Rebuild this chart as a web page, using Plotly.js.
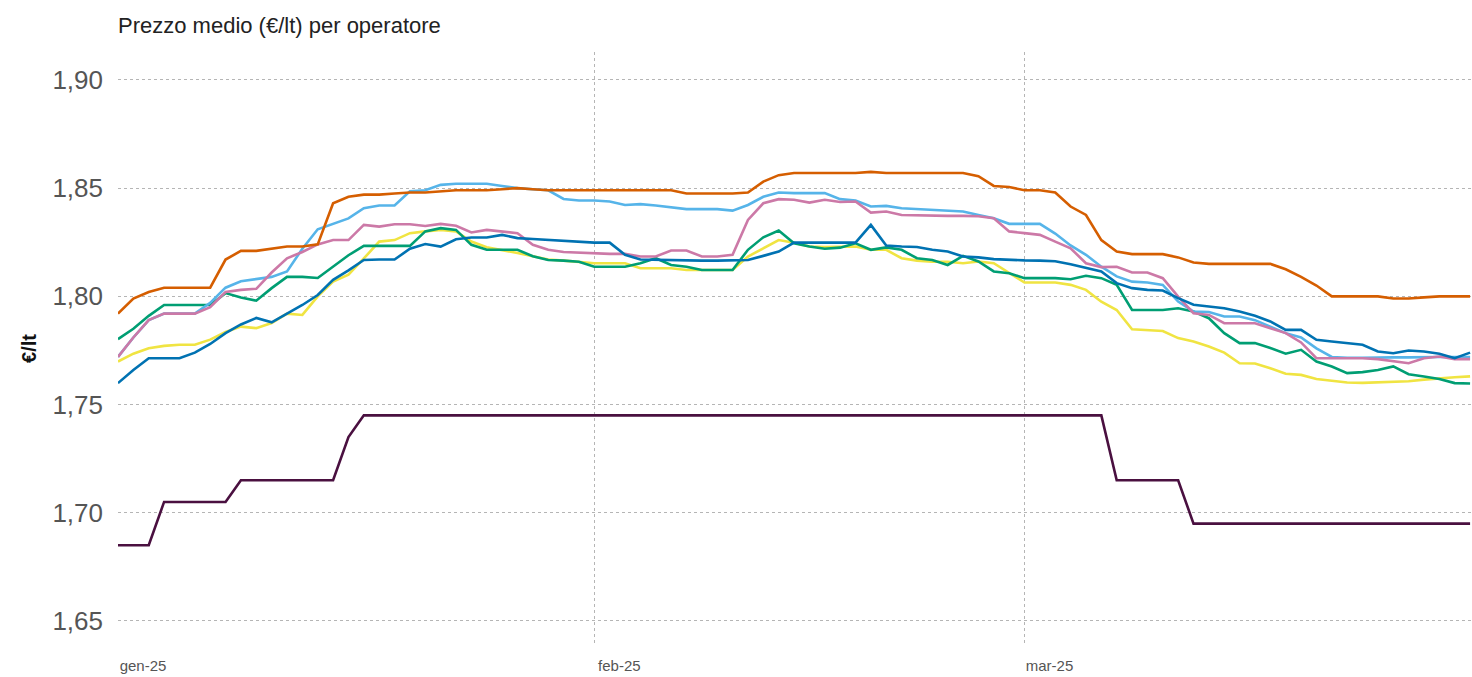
<!DOCTYPE html>
<html><head><meta charset="utf-8">
<script src="https://cdn.plot.ly/plotly-3.0.1.min.js"></script>
<style>html,body{margin:0;padding:0;background:#fff}#chart{width:1472px;height:677px}</style>
</head><body><div id="chart"></div>
<script>
// Daily observations, 1 Jan 2025 .. 30 Mar 2025 (89 days)
const startDate = '2025-01-01';
const nDays = 89;

const tickVals = ['2025-01-01', '2025-02-01', '2025-03-01'];
const tickLabels = ['gen-25', 'feb-25', 'mar-25'];
const yTicks = [1.65, 1.70, 1.75, 1.80, 1.85, 1.90];

const opA = [ // orange
1.792,1.799,1.802,1.804,1.804,1.804,1.804,1.817,1.821,1.821,
1.822,1.823,1.823,1.824,1.843,1.846,1.847,1.847,1.8475,1.848,
1.848,1.8485,1.849,1.849,1.849,1.8495,1.850,1.8495,1.849,1.849,
1.849,1.849,1.849,1.849,1.849,1.849,1.849,1.8475,1.8475,1.8475,
1.8475,1.848,1.853,1.856,1.857,1.857,1.857,1.857,1.857,1.8575,
1.857,1.857,1.857,1.857,1.857,1.857,1.8555,1.851,1.8505,1.849,
1.849,1.848,1.8415,1.8376,1.826,1.8207,1.8195,1.8195,1.8195,1.818,
1.8156,1.815,1.815,1.815,1.815,1.815,1.8125,1.809,1.805,1.800,
1.800,1.800,1.800,1.799,1.799,1.7995,1.800,1.800,1.800];

const opB = [ // light blue
1.772,1.781,1.789,1.792,1.792,1.792,1.797,1.804,1.807,1.808,
1.809,1.8115,1.822,1.831,1.8335,1.836,1.8407,1.842,1.842,1.8485,
1.849,1.8515,1.852,1.852,1.852,1.851,1.850,1.8495,1.849,1.845,
1.8443,1.8443,1.8438,1.8422,1.8426,1.842,1.841,1.8403,1.8403,1.8403,
1.8396,1.8422,1.846,1.848,1.8477,1.8477,1.8477,1.8449,1.8443,1.8415,
1.8418,1.8407,1.8403,1.840,1.8395,1.8392,1.8376,1.8361,1.8335,1.8335,
1.8335,1.829,1.8235,1.8192,1.8137,1.8092,1.8068,1.8064,1.8053,1.7976,
1.793,1.7928,1.7907,1.7907,1.789,1.786,1.783,1.781,1.776,1.772,
1.7716,1.7716,1.7718,1.7718,1.7718,1.772,1.772,1.772,1.772];

const opC = [ // pink
1.772,1.781,1.789,1.792,1.792,1.792,1.795,1.802,1.803,1.8035,
1.811,1.8176,1.8205,1.824,1.826,1.826,1.833,1.8322,1.8333,1.8333,
1.8325,1.8335,1.8326,1.8295,1.8307,1.830,1.8292,1.8238,1.8215,1.8205,
1.8202,1.8196,1.8196,1.8196,1.8184,1.8184,1.8212,1.8212,1.8184,1.8184,
1.8192,1.8353,1.843,1.8449,1.8446,1.8433,1.8446,1.8436,1.8438,1.8387,
1.8392,1.8376,1.8374,1.8372,1.8372,1.8372,1.837,1.8361,1.830,1.8292,
1.8284,1.8253,1.8222,1.8153,1.8135,1.8137,1.811,1.811,1.8084,1.7999,
1.7922,1.7914,1.7876,1.7876,1.7876,1.7853,1.783,1.7787,1.7714,1.7714,
1.7714,1.7714,1.771,1.7699,1.7691,1.7714,1.7722,1.771,1.771];

const opD = [ // green
1.7802,1.785,1.791,1.796,1.796,1.796,1.796,1.8015,1.7995,1.798,
1.8038,1.809,1.809,1.8085,1.8137,1.819,1.8233,1.8233,1.8233,1.8233,
1.830,1.8315,1.8307,1.8238,1.8215,1.8215,1.8215,1.8185,1.8168,1.8165,
1.816,1.8137,1.8137,1.8137,1.8153,1.8176,1.8145,1.8137,1.8122,1.8122,
1.8122,1.8215,1.8273,1.8304,1.8245,1.823,1.822,1.8225,1.8245,1.8215,
1.8226,1.8215,1.8176,1.8168,1.8145,1.8187,1.8161,1.8115,1.8107,1.8084,
1.8084,1.8084,1.8079,1.8095,1.8084,1.8053,1.7937,1.7937,1.7937,1.7945,
1.793,1.7899,1.783,1.7784,1.7784,1.7761,1.7735,1.7753,1.7699,1.7676,
1.7645,1.765,1.766,1.7676,1.764,1.763,1.7618,1.7599,1.7597];

const opE = [ // yellow
1.7699,1.7735,1.776,1.7771,1.7776,1.7776,1.780,1.7835,1.786,1.7853,
1.7877,1.792,1.7914,1.800,1.8068,1.810,1.8175,1.8253,1.826,1.8292,
1.830,1.8307,1.830,1.8253,1.8227,1.8215,1.820,1.8185,1.817,1.8165,
1.816,1.8153,1.8153,1.8153,1.813,1.813,1.813,1.8122,1.8122,1.8122,
1.8122,1.8184,1.8222,1.826,1.8248,1.823,1.8228,1.8228,1.823,1.8215,
1.8215,1.8176,1.8165,1.816,1.816,1.8153,1.8161,1.8153,1.8107,1.8064,
1.8064,1.8064,1.8053,1.803,1.7975,1.7937,1.7848,1.7845,1.784,1.7807,
1.7791,1.7768,1.774,1.7691,1.769,1.7668,1.7642,1.7637,1.7618,1.761,
1.7602,1.760,1.7602,1.7605,1.7608,1.7615,1.7622,1.7626,1.763];

const opF = [ // dark blue
1.7599,1.766,1.7714,1.7714,1.7714,1.774,1.778,1.783,1.787,1.790,
1.788,1.792,1.796,1.8006,1.8076,1.812,1.8168,1.817,1.817,1.822,
1.8242,1.823,1.8264,1.8272,1.8272,1.8284,1.8269,1.8265,1.826,1.8255,
1.8252,1.8248,1.8248,1.8192,1.817,1.8168,1.8166,1.8165,1.8165,1.8165,
1.8165,1.8168,1.8187,1.8207,1.8248,1.8248,1.8248,1.8248,1.8248,1.833,
1.8235,1.823,1.8228,1.8215,1.8207,1.8184,1.818,1.8172,1.8168,1.8166,
1.8165,1.8162,1.8148,1.8132,1.8115,1.8061,1.8038,1.803,1.8027,1.7992,
1.7961,1.7953,1.7945,1.793,1.791,1.7884,1.7845,1.7845,1.7799,1.7791,
1.7785,1.7776,1.7745,1.7737,1.775,1.7745,1.7735,1.7714,1.774];

const opG = [ // dark purple
1.685,1.685,1.685,1.705,1.705,1.705,1.705,1.705,1.715,1.715,
1.715,1.715,1.715,1.715,1.715,1.735,1.745,1.745,1.745,1.745,
1.745,1.745,1.745,1.745,1.745,1.745,1.745,1.745,1.745,1.745,
1.745,1.745,1.745,1.745,1.745,1.745,1.745,1.745,1.745,1.745,
1.745,1.745,1.745,1.745,1.745,1.745,1.745,1.745,1.745,1.745,
1.745,1.745,1.745,1.745,1.745,1.745,1.745,1.745,1.745,1.745,
1.745,1.745,1.745,1.745,1.745,1.715,1.715,1.715,1.715,1.715,
1.695,1.695,1.695,1.695,1.695,1.695,1.695,1.695,1.695,1.695,
1.695,1.695,1.695,1.695,1.695,1.695,1.695,1.695,1.695];

const dates = [];
{
  const d0 = new Date(startDate + 'T00:00:00Z');
  for (let i = 0; i < nDays; i++) {
    const d = new Date(d0.getTime() + i * 86400000);
    dates.push(d.toISOString().slice(0, 10));
  }
}

const series = [
  {name: 'Operatore G', y: opG, color: '#4a1040'},
  {name: 'Operatore E', y: opE, color: '#F0E442'},
  {name: 'Operatore D', y: opD, color: '#009E73'},
  {name: 'Operatore B', y: opB, color: '#56B4E9'},
  {name: 'Operatore C', y: opC, color: '#CC79A7'},
  {name: 'Operatore F', y: opF, color: '#0072B2'},
  {name: 'Operatore A', y: opA, color: '#D55E00'}
];

const traces = series.map(s => ({
  type: 'scatter', mode: 'lines', name: s.name,
  x: dates, y: s.y,
  line: {color: s.color, width: 2.6},
  hoverinfo: 'x+y+name'
}));

const layout = {
  width: 1472, height: 677,
  paper_bgcolor: '#ffffff', plot_bgcolor: '#ffffff',
  separators: ',.',
  showlegend: false,
  margin: {l: 118, r: 0, t: 52, b: 32, pad: 0},
  font: {family: 'Liberation Sans, Arial, sans-serif', color: '#555555'},
  title: {
    text: 'Prezzo medio (€/lt) per operatore',
    x: 0, xanchor: 'left', xref: 'paper',
    y: 1 - 25 / 677, yanchor: 'middle', yref: 'container',
    font: {size: 22, color: '#222222', family: 'Liberation Sans, Arial, sans-serif'}
  },
  xaxis: {
    type: 'date',
    range: ['2025-01-01', '2025-03-30 03:00'],
    tickvals: tickVals, ticktext: tickLabels,
    showgrid: true, gridcolor: '#b5b5b5', griddash: 'dot', gridwidth: 1,
    zeroline: false, showline: false, ticks: '',
    ticklabelshift: 25, ticklabelstandoff: 10,
    tickfont: {size: 15, color: '#555555'}
  },
  yaxis: {
    range: [1.6389, 1.9129],
    tickvals: yTicks, tickformat: '.2f',
    showgrid: true, gridcolor: '#b5b5b5', griddash: 'dot', gridwidth: 1,
    zeroline: false, showline: false, ticks: '',
    ticklabelstandoff: 14,
    tickfont: {size: 26, color: '#555555'},
    title: {text: '<b>€/lt</b>', standoff: 10, font: {size: 20, color: '#111111'}}
  }
};

Plotly.newPlot('chart', traces, layout, {displayModeBar: false, staticPlot: true});
</script>
</body></html>
